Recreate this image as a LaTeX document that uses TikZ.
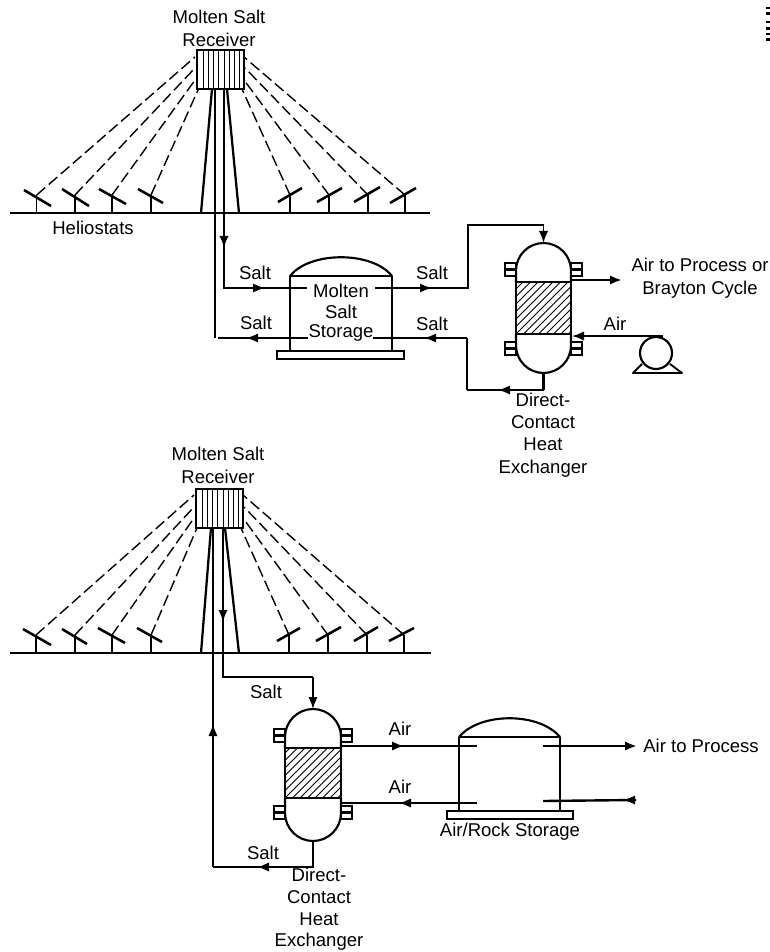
\documentclass[tikz,border=0pt]{standalone}
\usepackage{fontspec}
\setmainfont{Liberation Sans}
\usetikzlibrary{arrows.meta}
\tikzset{
  x=0.75pt,y=-0.75pt,
  lbl/.style={inner sep=0pt,font=\fontsize{13.9}{15}\selectfont,align=center},
  pipe/.style={line width=1.8pt,line join=miter},
  pipearrow/.style={pipe,-{Latex[length=9pt,width=7pt]}},
  thin pipe/.style={line width=1.4pt},
  wall/.style={line width=1.2pt},
  roof/.style={line width=1.6pt},
  ground/.style={line width=2.2pt},
  beam/.style={line width=1.05pt,dash pattern=on 8.5pt off 3.5pt},
  mirror/.style={line width=1.9pt},
  post/.style={line width=1.1pt},
  tower/.style={line width=1.7pt},
  receiver/.style={draw,line width=1.7pt,minimum width=35.25pt,minimum height=29.25pt,inner sep=0pt,anchor=north west},
  stripe/.style={line width=0.6pt},
  hatch/.style={line width=0.6pt},
  plinth/.style={line width=1.4pt},
}
% receiver stripes
\newcommand{\stripes}[3]{\foreach \sx in {7,12,17,22,28,33,38,43}{\draw[stripe] (#1+\sx,#2) -- (#1+\sx,#3);}}
% heat exchanger: left,right,top,band top,band bottom,bottom,name
\newcommand{\hxunit}[7]{
  \pgfmathsetmacro{\mx}{(#1+#2)/2}
  \pgfmathsetmacro{\hw}{(#2-#1)/2}
  \coordinate (#7top) at (\mx,#3);
  \coordinate (#7bot) at (\mx,#6);
  \draw[roof] (#1,#4) -- (#1,#3+\hw) .. controls (#1,#3+0.45*\hw) and (\mx-0.55*\hw,#3) .. (\mx,#3)
     .. controls (\mx+0.55*\hw,#3) and (#2,#3+0.45*\hw) .. (#2,#3+\hw) -- (#2,#4);
  \draw[roof] (#1,#5) -- (#1,#6-\hw) .. controls (#1,#6-0.45*\hw) and (\mx-0.55*\hw,#6) .. (\mx,#6)
     .. controls (\mx+0.55*\hw,#6) and (#2,#6-0.45*\hw) .. (#2,#6-\hw) -- (#2,#5);
  \begin{scope}
    \clip (#1,#4) rectangle (#2,#5);
    \foreach \hx in {-60,-52.5,...,70}{\draw[hatch] (#1+\hx,#5) -- (#1+\hx+#5-#4,#4);}
  \end{scope}
  \draw[pipe] (#1,#4) rectangle (#2,#5);
  \foreach \fy in {#4-19,#5+8}{
    \draw[line width=1.6pt,fill=white] (#1-11,\fy) rectangle (#1,\fy+13);
    \draw[line width=1.6pt] (#1-11,\fy+6.5) -- (#1,\fy+6.5);
    \draw[line width=1.6pt,fill=white] (#2,\fy) rectangle (#2+11,\fy+13);
    \draw[line width=1.6pt] (#2,\fy+6.5) -- (#2+11,\fy+6.5);
  }
}
\begin{document}
\begin{tikzpicture}
\useasboundingbox (0,0) rectangle (770,952);

% scan mark at the page edge
\foreach \my/\mh in {7/2,12/3,21/2,27/3,33/2,38/3}{\fill (766,\my) rectangle (770,\my+\mh);}

%%%%% TOP SYSTEM
\node[lbl] (recTopLab) at (219,28) {Molten Salt\\[2.2pt]Receiver};
\node[receiver] (recA) at (196,49) {};
\stripes{196}{49}{88}
\coordinate (gndAl) at (10,213); \coordinate (gndAr) at (430,213);
\draw[ground] (gndAl) -- (gndAr);
\foreach \i/\px/\ax/\ay/\bx/\by/\tx/\ty in {
  1/36.7/24/190/51/206/195/57, 2/75/62/189/89/206/195/68, 3/112/99/189/126/204/195/80, 4/151/138/189/163/203/198/90,
  5/290/278/202/302/188/242/89, 6/329/317/202/342/188/244/80, 7/368/354/202/380/187/245/68, 8/405/390/203/416/188/244/57}{
  \coordinate (hA\i) at (\px,195);
  \draw[post] (hA\i) -- (\px,213);
  \draw[mirror] (\ax,\ay) -- (\bx,\by);
  \draw[beam] (hA\i) -- (\tx,\ty);
}
\draw[tower] (212,89) -- (201,213);
\draw[tower] (227,89) -- (239,213);
\node[lbl] (helioLab) at (93,228) {Heliostats};

% pipes, top
\coordinate (aDn) at (224,88); \coordinate (aDnM) at (224,248); \coordinate (aC1) at (224,288);
\coordinate (aInM) at (265,288); \coordinate (aInE) at (307,288);
\coordinate (aOutS) at (375,288); \coordinate (aOutM) at (432,288); \coordinate (aC2) at (468,288);
\coordinate (aC3) at (468,225); \coordinate (aC4) at (543.5,225);
\coordinate (aRetS) at (215,88); \coordinate (aRetB) at (215,338);
\coordinate (aL1) at (308,338); \coordinate (aL1M) at (246,338); \coordinate (aL1E) at (218,338);
\coordinate (aR1) at (467,338); \coordinate (aR1M) at (424,338); \coordinate (aR1E) at (373,338);
\coordinate (aC5) at (467,390); \coordinate (aC5M) at (498,390);

\hxunit{516}{571}{243}{282}{334}{373}{hxA}
\draw[pipe] (aDn) -- (aC1) -- (aInE);
\draw[pipearrow] (aDn) -- (aDnM);
\draw[pipearrow] (aC1) -- (aInM);
\draw[pipe] (aOutS) -- (aC2) -- (aC3) -- (aC4);
\draw[pipearrow] (aOutS) -- (aOutM);
\draw[pipearrow,thin pipe] (aC4) -- (hxAtop);
\draw[thin pipe] (aRetS) -- (aRetB);
\draw[pipe] (aL1) -- (aL1E);
\draw[pipearrow] (aL1) -- (aL1M);
\draw[pipe] (aR1) -- (aR1E);
\draw[pipearrow] (aR1) -- (aR1M);
\draw[pipe] (aR1) -- (aC5);
\draw[pipe] (hxAbot) -- (hxAbot |- aC5);
\draw[thin pipe] (hxAbot |- aC5) -- (aC5);
\draw[pipearrow,thin pipe] (hxAbot |- aC5) -- (aC5M);

% tank, top
\coordinate (tA1) at (290,276); \coordinate (tA2) at (392,276);
\draw[roof] (tA1) .. controls (310,251) and (372,251) .. (tA2);
\draw[roof] (tA1) -- (tA2);
\draw[wall] (tA1) -- (290,351);
\draw[wall] (tA2) -- (392,351);
\draw[plinth] (277,351) rectangle (404,359);
\node[lbl] (tankLab1) at (341,291) {Molten};
\node[lbl] (tankLab2) at (341,312) {Salt};
\node[lbl] (tankLab3) at (341,333) {Storage};
\node[lbl] (sA1) at (255,273) {Salt};
\node[lbl] (sA2) at (256,323) {Salt};
\node[lbl] (sA3) at (432,273) {Salt};
\node[lbl] (sA4) at (432,324) {Salt};

% air side, top
\coordinate (airOutS) at (571,280); \coordinate (airOutE) at (622,280);
\coordinate (airInS) at (663,336); \coordinate (airInE) at (572,336);
\draw[pipearrow] (airOutS) -- (airOutE);
\draw[pipearrow,thin pipe] (airInS) -- (airInE);
\node[draw,circle,line width=1.6pt,minimum size=24pt,inner sep=0pt] (pump) at (656,353) {};
\draw[line width=1.4pt,line join=round] (642,364) -- (633,373) -- (682,373) -- (670,364);
\node[lbl,align=center] (airProcA) at (700,278) {Air to Process or\\[2.2pt]Brayton Cycle};
\node[lbl] (airA) at (615,324) {Air};
\node[lbl] (hxLabA) at (543,435) {Direct-\\[1.8pt]Contact\\[1.8pt]Heat\\[1.8pt]Exchanger};

%%%%% BOTTOM SYSTEM
\node[lbl] (recBotLab) at (218,465) {Molten Salt\\[2.2pt]Receiver};
\node[receiver] (recB) at (195,488) {};
\stripes{195}{488}{527}
\coordinate (gndBl) at (10,653); \coordinate (gndBr) at (431,653);
\draw[ground] (gndBl) -- (gndBr);
\foreach \i/\px/\ax/\ay/\bx/\by/\tx/\ty in {
  1/36/23/629/51/645/194/495, 2/75/62/629/87/644/194/507, 3/112/98/628/125/643/194/518, 4/151/137/628/162/642/197/528,
  5/289/277/641/300/628/241/528, 6/328/316/641/341/627/243/518, 7/367/354/641/378/627/244/507, 8/404/389/641/414/628/243/495}{
  \coordinate (hB\i) at (\px,635);
  \draw[post] (hB\i) -- (\px,653);
  \draw[mirror] (\ax,\ay) -- (\bx,\by);
  \draw[beam] (hB\i) -- (\tx,\ty);
}
\draw[tower] (211,528) -- (201,653);
\draw[tower] (225,528) -- (239,653);

\coordinate (bDn) at (223,527); \coordinate (bDnM) at (223,622); \coordinate (bC1) at (223,677); \coordinate (bC2) at (313,677);
\coordinate (bUpS) at (213,867); \coordinate (bUpM) at (213,724); \coordinate (bUpE) at (213,527);
\coordinate (bLm) at (257,867);

\hxunit{285}{341}{709}{748}{798}{841}{hxB}
\draw[pipe] (bDn) -- (bC1) -- (bC2);
\draw[pipearrow] (bDn) -- (bDnM);
\draw[pipearrow,thin pipe] (bC2) -- (hxBtop);
\draw[thin pipe] (hxBbot) -- (hxBbot |- bUpS) -- (bUpS);
\draw[pipearrow,thin pipe] (hxBbot |- bUpS) -- (bLm);
\draw[pipe] (bUpS) -- (bUpE);
\draw[pipearrow,thin pipe] (bUpS) -- (bUpM);

\coordinate (tB1) at (459,737); \coordinate (tB2) at (560,737);
\draw[roof] (tB1) .. controls (480,712) and (539,712) .. (tB2);
\draw[roof] (tB1) -- (tB2);
\draw[wall] (tB1) -- (459,811);
\draw[wall] (tB2) -- (560,811);
\draw[plinth] (447,811) rectangle (573,819);

\coordinate (cS) at (341,746); \coordinate (cM) at (404,746); \coordinate (cE) at (477,746);
\coordinate (dS) at (477,803); \coordinate (dM) at (399,803); \coordinate (dE) at (341,803);
\coordinate (eS) at (543,746); \coordinate (eE) at (637,746);
\coordinate (fS) at (636,800); \coordinate (fM) at (623,800); \coordinate (fE) at (543,801);
\draw[thin pipe] (cS) -- (cE);
\draw[pipearrow,thin pipe] (cS) -- (cM);
\draw[thin pipe] (dS) -- (dE);
\draw[pipearrow,thin pipe] (dS) -- (dM);
\draw[pipearrow] (eS) -- (eE);
\draw[pipe] (fE) -- (fS);
\draw[pipearrow] (fS) -- (fM);

\node[lbl] (airB1) at (400,729) {Air};
\node[lbl] (airB2) at (400,787) {Air};
\node[lbl] (airProcB) at (701,746) {Air to Process};
\node[lbl] (storB) at (510,832) {Air/Rock Storage};
\node[lbl] (sB1) at (266,692) {Salt};
\node[lbl] (sB2) at (263,853) {Salt};
\node[lbl] (hxLabB) at (319,909.5) {Direct-\\[1.2pt]Contact\\[1.2pt]Heat\\[1.2pt]Exchanger};
\end{tikzpicture}
\end{document}
